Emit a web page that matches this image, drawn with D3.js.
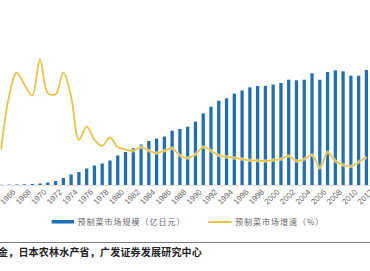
<!DOCTYPE html>
<html>
<head>
<meta charset="utf-8">
<script src="https://cdn.jsdelivr.net/npm/d3@7"></script>
<style>
  body { margin: 0; background: #fff; }
  svg { display: block; }
</style>
</head>
<body>
<div id="chart"></div>
<script>
// 年份
const years = d3.range(1965, 2013);
// 预制菜市场规模（亿日元）
const marketSize = [
    30, 40, 50, 70, 100, 150, 250, 400, 700, 1050,
    1300, 1650, 1950, 2150, 2450, 2950, 3300, 3700, 4050, 4400,
    4650, 4850, 5430, 5600, 5830, 6330, 7170, 7830, 8430, 8670,
    9130, 9450, 9770, 9900, 9920, 10050, 10200, 10530, 10470, 10530,
    11170, 10530, 11300, 11470, 11370, 10930, 10930, 11500
];
// 预制菜市场增速（%）
const growthRate = [
    10, 54, 74, 64, 55, 85, 57, 56, 74, 54,
    18, 29, 18, 13, 20, 12, 10, 9, 12, 9,
    7, 9, 11, 5, 3, 6, 12, 9, 5, 4,
    3, 2, 1, 0.8, 0.4, 1.2, 2, 4.6, 0.4, 2,
    5.4, -5.4, 7.9, 0.4, -2.9, -4.2, -0.4, 3.8
];
const tickYears = years.filter(d => d % 2 === 0 && d >= 1966);
const legendNames = ['预制菜市场规模（亿日元）', '预制菜市场增速（%）'];
const sourceText = '金，日本农林水产省，广发证券发展研究中心';

const width = 370;
const height = 271;
const barColor = '#1f6fb7';
const lineColor = '#ebc540';

const svg = d3.select('#chart').append('svg')
    .attr('width', width)
    .attr('height', height);

svg.append('rect').attr('width', width).attr('height', height).attr('fill', '#fff');

// x 轴尺度
const x = d3.scaleBand()
    .domain(years)
    .range([-2.7, 370.3])
    .paddingInner(0.58)
    .paddingOuter(0.29);

// 柱子尺度
const yBar = d3.scaleLinear()
    .domain([0, 12000])
    .range([185, 65]);

// 增速尺度
const yLine = d3.scaleLinear()
    .domain([0, 100])
    .range([161.5, 41.5]);

// 坐标轴
const axis = svg.append('g')
    .attr('transform', 'translate(0,185)')
    .call(d3.axisBottom(x).tickValues(tickYears).tickSize(0).tickPadding(0));
axis.select('.domain').attr('stroke', '#d9d9d9').attr('stroke-width', 0.8);
axis.selectAll('text')
    .attr('fill', '#6b6b6b')
    .attr('font-family', 'Liberation Sans, Arial, sans-serif')
    .attr('font-size', '8px')
    .attr('text-anchor', 'end')
    .attr('dy', null)
    .attr('y', 0)
    .attr('transform', 'translate(7,7.5) rotate(-45)');

// 柱子
svg.append('g').selectAll('rect')
    .data(marketSize)
    .enter()
    .append('rect')
    .attr('x', (d, i) => x(years[i]))
    .attr('y', d => yBar(d))
    .attr('width', x.bandwidth())
    .attr('height', d => 185 - yBar(d))
    .attr('fill', barColor);

// 增速折线
const line = d3.line()
    .x((d, i) => x(years[i]) + x.bandwidth() / 2)
    .y(d => yLine(d))
    .curve(d3.curveCatmullRom.alpha(0.5));

svg.append('path')
    .datum(growthRate)
    .attr('d', line)
    .attr('fill', 'none')
    .attr('stroke', '#fff')
    .attr('stroke-opacity', 0.5)
    .attr('stroke-width', 3.5);

svg.append('path')
    .datum(growthRate)
    .attr('d', line)
    .attr('fill', 'none')
    .attr('stroke', lineColor)
    .attr('stroke-width', 1.8)
    .attr('stroke-linejoin', 'round');

// 图例
const legend = svg.append('g')
    .attr('font-family', 'Noto Sans CJK SC, sans-serif')
    .attr('font-size', '8px')
    .attr('fill', '#666');

legend.append('rect')
    .attr('x', 51.7).attr('y', 220)
    .attr('width', 22.3).attr('height', 3.5)
    .attr('fill', barColor);
legend.append('text')
    .attr('x', 77.5).attr('y', 225)
    .attr('letter-spacing', 1)
    .text(legendNames[0]);

legend.append('line')
    .attr('x1', 208.3).attr('x2', 231.7)
    .attr('y1', 222).attr('y2', 222)
    .attr('stroke', lineColor)
    .attr('stroke-width', 2);
legend.append('text')
    .attr('x', 235).attr('y', 225)
    .attr('letter-spacing', 1)
    .text(legendNames[1]);

// 分隔线
svg.append('line')
    .attr('x1', 0).attr('x2', width)
    .attr('y1', 242.5).attr('y2', 242.5)
    .attr('stroke', '#7f7f7f')
    .attr('stroke-width', 1);

// 资料来源
svg.append('text')
    .attr('x', -2).attr('y', 255.5)
    .attr('font-family', 'Noto Sans CJK SC, sans-serif')
    .attr('font-size', '10px')
    .attr('font-weight', 700)
    .attr('letter-spacing', 0.2)
    .attr('fill', '#222')
    .text(sourceText);
</script>
</body>
</html>
